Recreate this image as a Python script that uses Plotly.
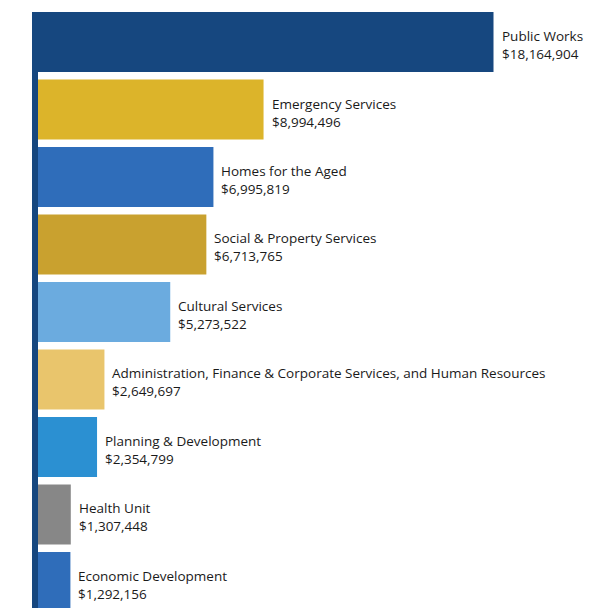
import plotly.graph_objects as go

categories = [
    "Public Works",
    "Emergency Services",
    "Homes for the Aged",
    "Social & Property Services",
    "Cultural Services",
    "Administration, Finance & Corporate Services, and Human Resources",
    "Planning & Development",
    "Health Unit",
    "Economic Development",
]
values = [18164904, 8994496, 6995819, 6713765, 5273522, 2649697, 2354799, 1307448, 1292156]
colors = ["#16477f", "#dcb42a", "#2f6dba", "#c9a12f", "#6babdf", "#e9c56c", "#2b90d2", "#878787", "#2f6dba"]

positions = list(range(len(categories)))

fig = go.Figure()
fig.add_trace(go.Bar(
    x=values,
    y=positions,
    orientation="h",
    marker=dict(color=colors, line=dict(width=0)),
    width=0.889,
    hoverinfo="skip",
))

for pos, cat, val in zip(positions, categories, values):
    fig.add_annotation(
        x=val, y=pos, xref="x", yref="y",
        text=f"{cat}<br>${val:,}",
        showarrow=False, xanchor="left", yanchor="middle", align="left",
        xshift=6, yshift=-3,
        font=dict(family="Open Sans, Noto Sans, sans-serif", size=13.5, color="#1a1a1a"),
    )

fig.update_layout(
    width=608, height=608,
    margin=dict(l=30, r=0, t=4, b=0),
    paper_bgcolor="white", plot_bgcolor="white",
    showlegend=False,
    xaxis=dict(range=[0, 23.05e6], showgrid=False, zeroline=False, showticklabels=False, showline=False, ticks=""),
    yaxis=dict(range=[8.504, -0.4445], showgrid=False, zeroline=False, showticklabels=False,
               showline=True, linecolor="#16477f", linewidth=6, ticks=""),
)

fig.write_html("out.html")
